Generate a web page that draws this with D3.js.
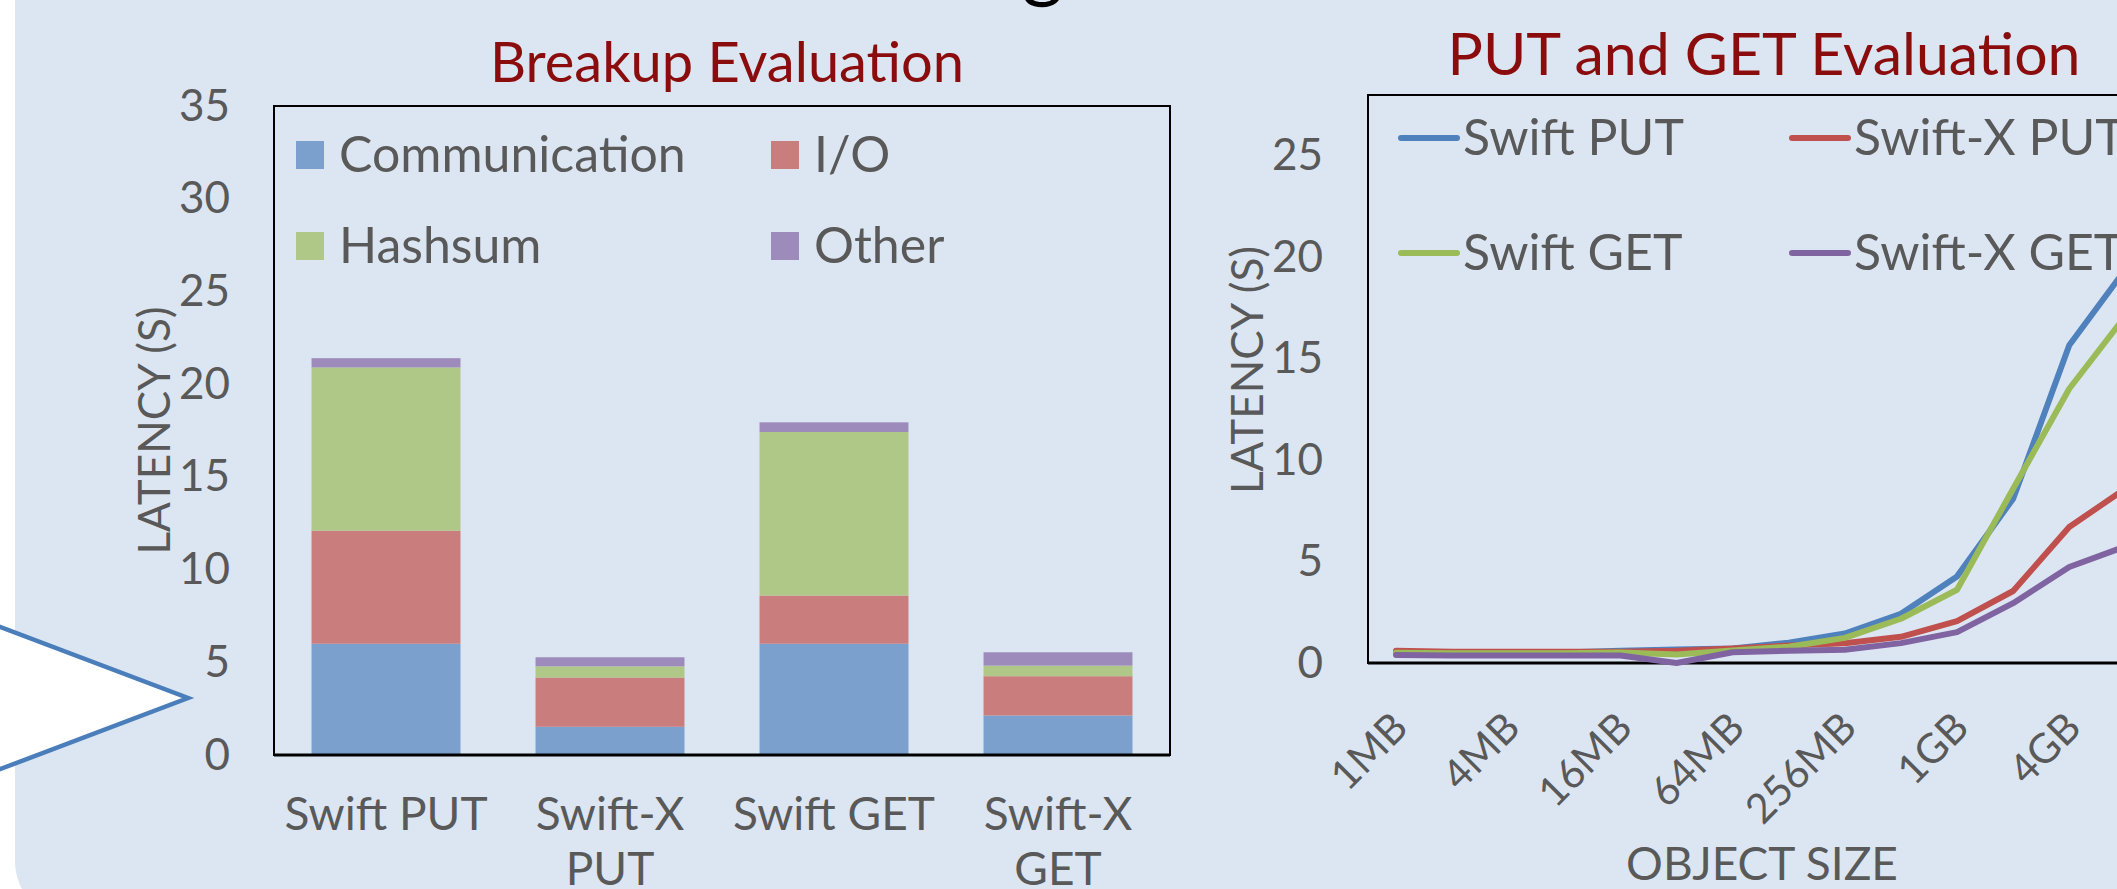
<!DOCTYPE html>
<html>
<head>
<meta charset="utf-8">
<script src="https://cdn.jsdelivr.net/npm/d3@7"></script>
<style>
  html, body { margin: 0; padding: 0; background: #ffffff; overflow: hidden; }
  svg { display: block; }
  text { font-family: Lato, "Open Sans", sans-serif; }
</style>
</head>
<body>
<svg id="slide" width="2117" height="889"></svg>
<script>
// ---- data: breakup chart ----
var breakupCategories = ["Swift PUT", "Swift-X PUT", "Swift GET", "Swift-X GET"];
var breakupKeys = ["Communication", "I/O", "Hashsum", "Other"];
var communication = [6.0, 1.52, 6.0, 2.13];
var io = [6.1, 2.66, 2.6, 2.12];
var hashsum = [8.8, 0.6, 8.82, 0.57];
var other = [0.5, 0.49, 0.52, 0.72];
var breakupTicks = [0, 5, 10, 15, 20, 25, 30, 35];

// ---- data: put/get chart ----
var objectSizes = ["1MB", "2MB", "4MB", "8MB", "16MB", "32MB", "64MB", "128MB",
                   "256MB", "512MB", "1GB", "2GB", "4GB", "8GB"];
var seriesNames = ["Swift PUT", "Swift-X PUT", "Swift GET", "Swift-X GET"];
var swiftPut  = [0.5, 0.5, 0.5, 0.52, 0.6, 0.66, 0.72, 1.0, 1.45, 2.43, 4.27, 8.1, 15.66, 19.4];
var swiftXPut = [0.6, 0.55, 0.55, 0.55, 0.55, 0.6, 0.72, 0.86, 0.97, 1.29, 2.06, 3.55, 6.7, 8.6];
var swiftGet  = [0.5, 0.48, 0.48, 0.48, 0.52, 0.42, 0.62, 0.8, 1.24, 2.18, 3.61, 8.59, 13.52, 17.1];
var swiftXGet = [0.4, 0.37, 0.37, 0.37, 0.37, 0.0, 0.53, 0.6, 0.65, 0.98, 1.52, 2.95, 4.73, 5.75];
var latencyTicks = [0, 5, 10, 15, 20, 25];

var barColors = ["#7ba0cd", "#c97e7d", "#afc887", "#9d8bbb"];
var lineColors = ["#4f81bd", "#c0504d", "#9bbb59", "#8064a2"];
var textGray = "#595959";
var titleRed = "#8a0c0c";

var svg = d3.select("#slide");

// slide panel
svg.append("rect")
    .attr("x", 15).attr("y", -100)
    .attr("width", 2400).attr("height", 1021)
    .attr("rx", 60)
    .attr("fill", "#dce6f2");

// bottom of the cut off slide heading
svg.append("text")
    .attr("x", 1022).attr("y", -8)
    .attr("font-size", 80)
    .attr("fill", "#000")
    .text("g");

// callout pointer
svg.append("path")
    .attr("d", "M-10,623 L188,698 L-10,773 Z")
    .attr("fill", "#ffffff")
    .attr("stroke", "#4a7ebb")
    .attr("stroke-width", 4.5)
    .attr("stroke-linejoin", "miter");

/* ------- BREAKUP EVALUATION ------- */
var left = { x0: 274, x1: 1170, y0: 106, y1: 755 };

var xb = d3.scaleBand()
    .domain(breakupCategories)
    .range([left.x0, left.x1])
    .paddingInner(0.335)
    .paddingOuter(0.1675);

var yb = d3.scaleLinear().domain([0, 35]).range([left.y1, left.y0]);

var table = breakupCategories.map(function(c, i) {
    return { cat: c, "Communication": communication[i], "I/O": io[i], "Hashsum": hashsum[i], "Other": other[i] };
});
var stacked = d3.stack().keys(breakupKeys)(table);

var gb = svg.append("g");

gb.selectAll("g.layer")
    .data(stacked)
    .enter().append("g")
    .attr("class", "layer")
    .attr("fill", function(d, i) { return barColors[i]; })
  .selectAll("rect")
    .data(function(d) { return d; })
    .enter().append("rect")
    .attr("x", function(d) { return xb(d.data.cat); })
    .attr("width", xb.bandwidth())
    .attr("y", function(d) { return yb(d[1]); })
    .attr("height", function(d) { return yb(d[0]) - yb(d[1]); });

// plot frame
gb.append("rect")
    .attr("x", left.x0).attr("y", left.y0)
    .attr("width", left.x1 - left.x0).attr("height", left.y1 - left.y0)
    .attr("fill", "none").attr("stroke", "#000").attr("stroke-width", 2);
gb.append("line")
    .attr("x1", left.x0).attr("x2", left.x1)
    .attr("y1", yb(0)).attr("y2", yb(0))
    .attr("stroke", "#000").attr("stroke-width", 3);

var yAxisB = gb.append("g")
    .attr("transform", "translate(" + left.x0 + ",0)")
    .call(d3.axisLeft(yb).tickValues(breakupTicks).tickSize(0).tickPadding(44));
yAxisB.select(".domain").remove();
yAxisB.selectAll("text")
    .attr("font-size", 44)
    .attr("fill", textGray);
yAxisB.attr("font-family", null).attr("font-size", null);

// category labels, wrapped to the band step
function wrapLabel(textSel, width) {
    textSel.each(function() {
        var t = d3.select(this);
        var words = t.text().split(" ");
        var line = [];
        var lines = [];
        var x = t.attr("x");
        t.text(null);
        var probe = t.append("tspan").attr("x", x);
        words.forEach(function(w) {
            line.push(w);
            probe.text(line.join(" "));
            if (probe.node().getComputedTextLength() > width && line.length > 1) {
                line.pop();
                lines.push(line.join(" "));
                line = [w];
            }
        });
        lines.push(line.join(" "));
        probe.remove();
        lines.forEach(function(l, i) {
            t.append("tspan").attr("x", x).attr("dy", i ? 55 : 0).text(l);
        });
    });
}

gb.selectAll("text.cat")
    .data(breakupCategories)
    .enter().append("text")
    .attr("class", "cat")
    .attr("x", function(d) { return xb(d) + xb.bandwidth() / 2; })
    .attr("y", 830)
    .attr("text-anchor", "middle")
    .attr("font-size", 46)
    .attr("fill", textGray)
    .text(function(d) { return d; })
    .call(wrapLabel, xb.step());

gb.append("text")
    .attr("transform", "translate(154," + (left.y0 + left.y1) / 2 + ") rotate(-90)")
    .attr("dy", "0.36em")
    .attr("text-anchor", "middle")
    .attr("font-size", 44)
    .attr("fill", textGray)
    .text("LATENCY (S)");

gb.append("text")
    .attr("x", 727).attr("y", 82)
    .attr("text-anchor", "middle")
    .attr("font-size", 56)
    .attr("fill", titleRed)
    .text("Breakup Evaluation");

// legend
var legB = gb.selectAll("g.legb")
    .data(breakupKeys)
    .enter().append("g")
    .attr("class", "legb")
    .attr("transform", function(d, i) {
        return "translate(" + (296 + (i % 2) * 475) + "," + (141 + Math.floor(i / 2) * 91) + ")";
    });
legB.append("rect")
    .attr("width", 28).attr("height", 28)
    .attr("fill", function(d, i) { return barColors[i]; });
legB.append("text")
    .attr("x", 43).attr("y", 31)
    .attr("font-size", 50)
    .attr("fill", textGray)
    .text(function(d) { return d; });

/* ------- PUT AND GET EVALUATION ------- */
var right = { x0: 1368, y0: 95, y1: 663, step: 56.1 };
right.x1 = right.x0 + right.step * objectSizes.length;

var xs = d3.scalePoint()
    .domain(objectSizes)
    .range([right.x0, right.x1])
    .padding(0.5);

var yl = d3.scaleLinear().domain([0, 28]).range([right.y1, right.y0]);

var gl = svg.append("g");

gl.append("rect")
    .attr("x", right.x0).attr("y", right.y0)
    .attr("width", right.x1 - right.x0).attr("height", right.y1 - right.y0)
    .attr("fill", "none").attr("stroke", "#000").attr("stroke-width", 2);
gl.append("line")
    .attr("x1", right.x0).attr("x2", right.x1)
    .attr("y1", yl(0)).attr("y2", yl(0))
    .attr("stroke", "#000").attr("stroke-width", 3);

var seriesData = [swiftPut, swiftXPut, swiftGet, swiftXGet];

var line = d3.line()
    .x(function(d, i) { return xs(objectSizes[i]); })
    .y(function(d) { return yl(d); });

gl.selectAll("path.series")
    .data(seriesData)
    .enter().append("path")
    .attr("class", "series")
    .attr("d", line)
    .attr("fill", "none")
    .attr("stroke", function(d, i) { return lineColors[i]; })
    .attr("stroke-width", 6)
    .attr("stroke-linejoin", "round")
    .attr("stroke-linecap", "round");

var yAxisL = gl.append("g")
    .attr("transform", "translate(" + right.x0 + ",0)")
    .call(d3.axisLeft(yl).tickValues(latencyTicks).tickSize(0).tickPadding(45));
yAxisL.select(".domain").remove();
yAxisL.selectAll("text")
    .attr("font-size", 44)
    .attr("fill", textGray);
yAxisL.attr("font-family", null).attr("font-size", null);

// every other size is labelled
gl.selectAll("text.size")
    .data(objectSizes.filter(function(d, i) { return i % 2 === 0; }))
    .enter().append("text")
    .attr("class", "size")
    .attr("transform", function(d) { return "translate(" + (xs(d) + 14) + ",730) rotate(-45)"; })
    .attr("text-anchor", "end")
    .attr("font-size", 41)
    .attr("fill", textGray)
    .text(function(d) { return d; });

gl.append("text")
    .attr("x", 1762).attr("y", 880)
    .attr("text-anchor", "middle")
    .attr("font-size", 46)
    .attr("fill", textGray)
    .text("OBJECT SIZE");

gl.append("text")
    .attr("transform", "translate(1247,370) rotate(-90)")
    .attr("dy", "0.36em")
    .attr("text-anchor", "middle")
    .attr("font-size", 44)
    .attr("fill", textGray)
    .text("LATENCY (S)");

gl.append("text")
    .attr("x", 1764).attr("y", 75)
    .attr("text-anchor", "middle")
    .attr("font-size", 59)
    .attr("fill", titleRed)
    .text("PUT and GET Evaluation");

var legL = gl.selectAll("g.legl")
    .data(seriesNames)
    .enter().append("g")
    .attr("class", "legl")
    .attr("transform", function(d, i) {
        return "translate(" + (1401 + (i % 2) * 391) + "," + (138 + Math.floor(i / 2) * 115) + ")";
    });
legL.append("line")
    .attr("x1", 0).attr("x2", 56)
    .attr("stroke", function(d, i) { return lineColors[i]; })
    .attr("stroke-width", 6)
    .attr("stroke-linecap", "round");
legL.append("text")
    .attr("x", 62).attr("y", 17)
    .attr("font-size", 50)
    .attr("fill", textGray)
    .text(function(d) { return d; });
</script>
</body>
</html>
